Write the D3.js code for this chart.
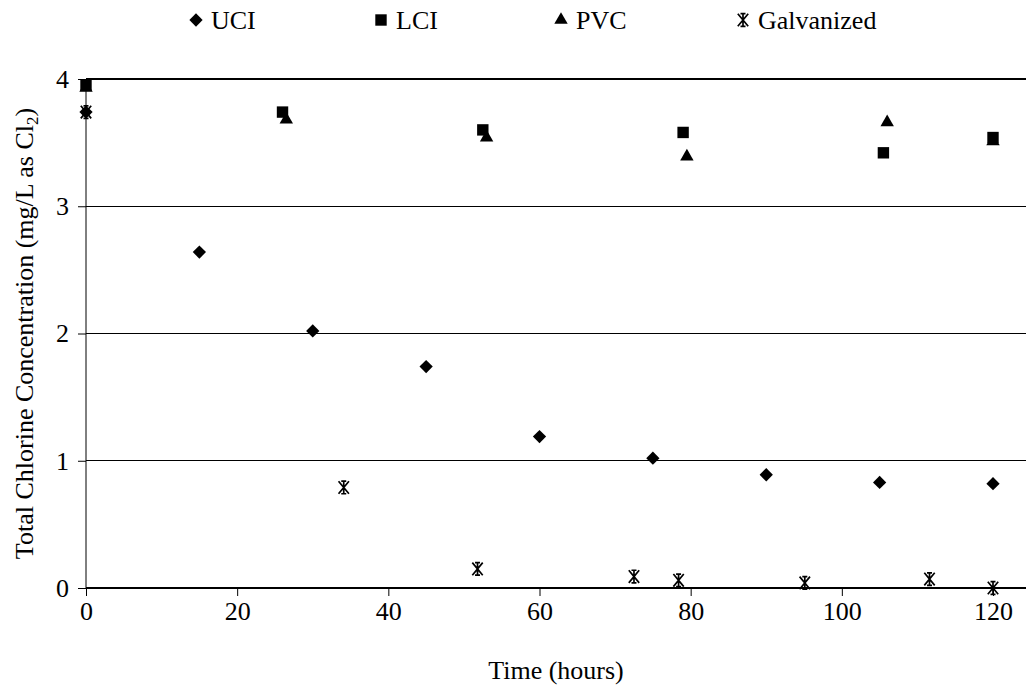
<!DOCTYPE html>
<html><head><meta charset="utf-8">
<script src="https://cdn.jsdelivr.net/npm/d3@7"></script>
<style>body{margin:0;background:#fff}svg{display:block}text{font-family:"Liberation Serif","Times New Roman",serif;fill:#000}</style>
</head><body><svg id="c" width="1026" height="685"></svg>
<script>
const seriesNames = ["UCI","LCI","PVC","Galvanized"];
const uciTime = [0,15,30,45,60,75,90,105,120];
const uciVal  = [3.74,2.64,2.02,1.74,1.19,1.02,0.89,0.83,0.82];
const lciTime = [0,26,52.5,79,105.5,120];
const lciVal  = [3.95,3.74,3.60,3.58,3.42,3.54];
const pvcTime = [0,26.5,53,79.5,106,120];
const pvcVal  = [3.93,3.68,3.54,3.39,3.66,3.51];
const galTime = [0,34.1,51.8,72.5,78.4,95.1,111.6,120];
const galVal  = [3.74,0.79,0.15,0.09,0.06,0.04,0.07,0.0];
const xTicks = [0,20,40,60,80,100,120];
const yTicks = [0,1,2,3,4];

const svg = d3.select("#c");
const W = 1026, pLeft = 86, pRight = 993, pTop = 79, pBottom = 588;
const x = d3.scaleLinear().domain([0,120]).range([pLeft,pRight]);
const y = d3.scaleLinear().domain([0,4]).range([pBottom,pTop]);
const fs = 26;

// grid lines
svg.append("g").selectAll("line").data(yTicks.filter(d=>d>0)).join("line")
  .attr("x1",pLeft).attr("x2",W).attr("y1",d=>y(d)).attr("y2",d=>y(d))
  .attr("stroke","#000").attr("stroke-width",d=>d===4?1.6:1).attr("shape-rendering","crispEdges");

// y axis
const ya = svg.append("g").attr("transform",`translate(${pLeft},0)`)
  .call(d3.axisLeft(y).tickValues(yTicks).tickSize(8).tickPadding(9).tickFormat(d3.format("d")));
ya.select(".domain").attr("stroke","#000").attr("d",`M0,${pTop}V${pBottom}`);
ya.selectAll(".tick line").attr("stroke","#000");
ya.selectAll("text").attr("font-size",fs).attr("font-family","Liberation Serif");

// x axis
const xa = svg.append("g").attr("transform",`translate(0,${pBottom})`)
  .call(d3.axisBottom(x).tickValues(xTicks).tickSize(8).tickPadding(6).tickFormat(d3.format("d")));
xa.select(".domain").remove();
xa.selectAll(".tick line").attr("stroke","#000");
xa.selectAll("text").attr("font-size",fs).attr("font-family","Liberation Serif");
svg.append("line").attr("x1",pLeft).attr("x2",W).attr("y1",pBottom).attr("y2",pBottom)
  .attr("stroke","#000").attr("stroke-width",2.2);

// axis titles
svg.append("text").attr("x",(pLeft+W)/2).attr("y",679).attr("text-anchor","middle")
  .attr("font-size",fs).text("Time (hours)");
const yt = svg.append("text").attr("transform",`translate(33,${(pTop+pBottom)/2}) rotate(-90)`)
  .attr("text-anchor","middle").attr("font-size",fs);
yt.append("tspan").text("Total Chlorine Concentration (mg/L as Cl");
yt.append("tspan").attr("font-size",17).attr("dy",5).text("2");
yt.append("tspan").attr("dy",-5).text(")");

// markers
const sym = {
  UCI: d3.symbol().type(d3.symbolDiamond2).size(112),
  LCI: d3.symbol().type(d3.symbolSquare).size(130),
  PVC: d3.symbol().type(d3.symbolTriangle).size(78),
};
function star(g){
  const r=6.3, w=5.2;
  g.append("path").attr("d",`M${-w},${-r}L${w},${r}M${w},${-r}L${-w},${r}M0,${-r}V${r}M-2.5,${-r}H2.5M-2.5,${r}H2.5`)
   .attr("stroke","#000").attr("stroke-width",1.7).attr("fill","none");
}
function drawSeries(times, vals, name){
  const g = svg.append("g");
  const pts = g.selectAll("g").data(times.map((t,i)=>({t,v:vals[i]}))).join("g")
    .attr("transform",d=>`translate(${x(d.t)},${y(d.v)})`);
  if(name==="Galvanized") pts.each(function(){star(d3.select(this));});
  else pts.append("path").attr("d",sym[name]()).attr("fill","#000");
}
drawSeries(pvcTime,pvcVal,"PVC");
drawSeries(lciTime,lciVal,"LCI");
drawSeries(uciTime,uciVal,"UCI");
drawSeries(galTime,galVal,"Galvanized");

// legend
const legX = [196,381,561,743];
const lg = svg.append("g");
seriesNames.forEach((n,i)=>{
  const g = lg.append("g").attr("transform",`translate(${legX[i]},20)`);
  if(n==="Galvanized") star(g);
  else g.append("path").attr("d",sym[n]()).attr("fill","#000");
  g.append("text").attr("x",15).attr("y",9).attr("font-size",fs).text(n);
});
</script></body></html>
